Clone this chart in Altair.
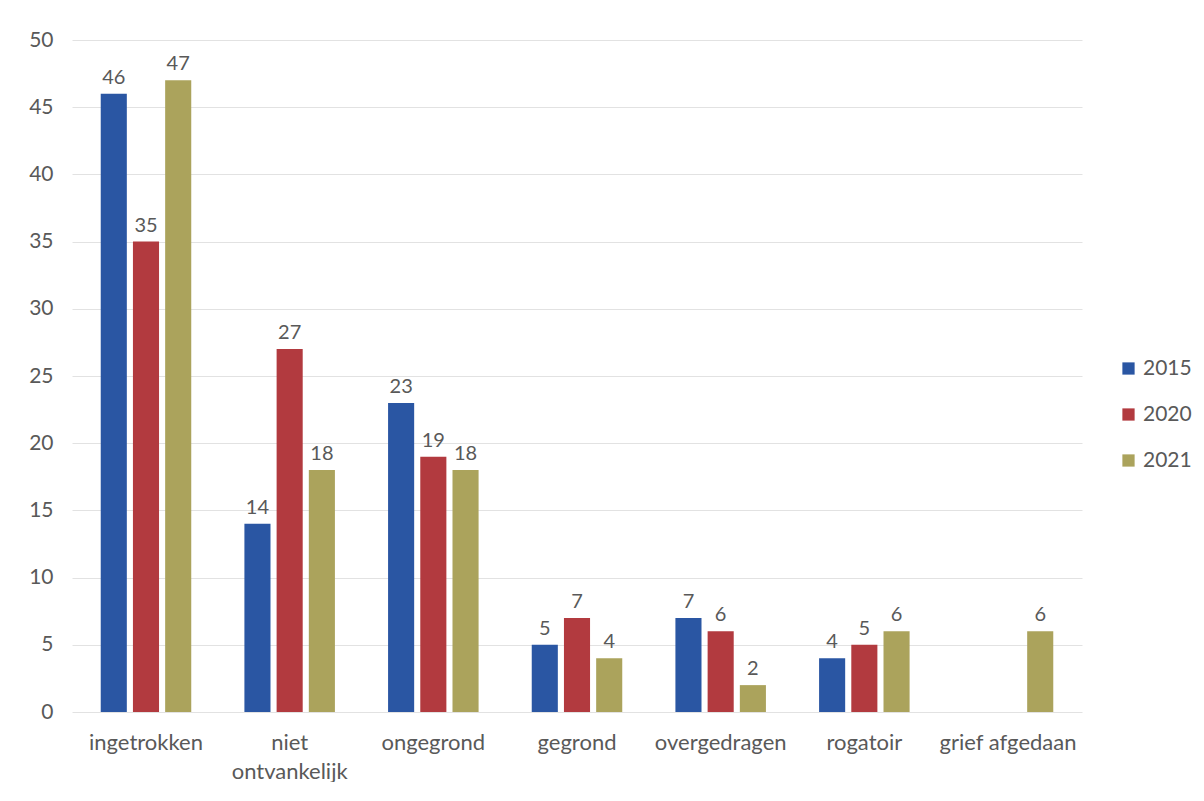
import altair as alt
import pandas as pd

categories = ["ingetrokken", "niet ontvankelijk", "ongegrond", "gegrond",
              "overgedragen", "rogatoir", "grief afgedaan"]
years = ["2015", "2020", "2021"]
v2015 = [46, 14, 23, 5, 7, 4, None]
v2020 = [35, 27, 19, 7, 6, 5, None]
v2021 = [47, 18, 18, 4, 2, 6, 6]
colors = ["#2A56A3", "#B23A3F", "#ABA35C"]

rows = []
for yr, vals in zip(years, [v2015, v2020, v2021]):
    for c, v in zip(categories, vals):
        if v is not None:
            rows.append({"categorie": c, "jaar": yr, "aantal": v})
df = pd.DataFrame(rows)

font = "Lato"
grey = "#595959"

x = alt.X("categorie:N", sort=categories, title=None,
          scale=alt.Scale(paddingInner=0.37, paddingOuter=0.2),
          axis=alt.Axis(labelAngle=0, labelFontSize=22, labelColor=grey, labelFont=font,
                        labelPadding=20, labelLineHeight=29, domain=False, ticks=False,
                        labelExpr="datum.value == 'niet ontvankelijk' ? ['niet', 'ontvankelijk'] : datum.value"))
xo = alt.XOffset("jaar:N", sort=years, scale=alt.Scale(paddingInner=0.19))

base = alt.Chart(df).encode(x=x, xOffset=xo)

bars = base.mark_bar().encode(
    y=alt.Y("aantal:Q", title=None, scale=alt.Scale(domain=[0, 50]),
            axis=alt.Axis(values=list(range(0, 51, 5)), labelFontSize=21, labelColor=grey,
                          labelFont=font, labelPadding=19, domain=False, ticks=False,
                          gridColor="#e2e2e2", gridWidth=1)),
    color=alt.Color("jaar:N", sort=years, title=None,
                    scale=alt.Scale(domain=years, range=colors),
                    legend=alt.Legend(orient="none", legendX=1046, legendY=318,
                                      symbolType="square", symbolSize=150,
                                      symbolStrokeWidth=0, labelFontSize=21,
                                      labelColor=grey, labelFont=font, labelOffset=4,
                                      rowPadding=24, symbolOpacity=1)),
)

labels = base.mark_text(dy=-16, fontSize=20, color=grey, font=font).encode(
    y=alt.Y("aantal:Q"),
    text=alt.Text("aantal:Q"),
)

chart = (bars + labels).properties(
    width=1010, height=672,
    autosize=alt.AutoSizeParams(type="none"),
    padding={"left": 64, "top": 32, "right": 114, "bottom": 70},
).configure(background="white").configure_view(stroke=None, strokeWidth=0)

chart.save("out.html", embed_options={"renderer": "svg", "actions": False})
